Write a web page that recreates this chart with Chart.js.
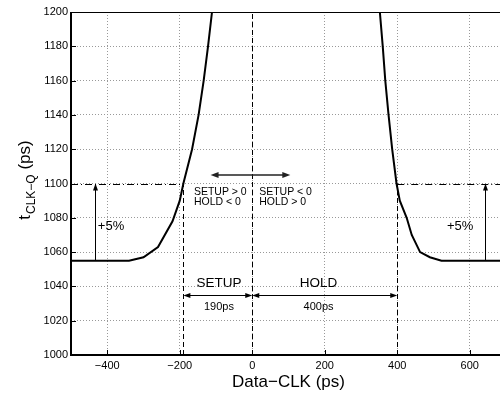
<!DOCTYPE html>
<html><head><meta charset="utf-8">
<script src="https://cdn.jsdelivr.net/npm/chart.js@4"></script>
<style>html,body{margin:0;padding:0;overflow:hidden;background:#fff;width:500px;height:393px}canvas{display:block}</style>
</head><body>
<canvas id="c" width="506" height="393"></canvas>
<script>
// ---- data ----
const xTicks = [-400, -200, 0, 200, 400, 600];
const yTicks = [1000, 1020, 1040, 1060, 1080, 1100, 1120, 1140, 1160, 1180, 1200];
const leftX  = [-500, -340, -300, -260, -220, -200, -190, -166, -148, -134, -122, -111];
const leftY  = [1055, 1055, 1057, 1063, 1078, 1090, 1100, 1120, 1140, 1160, 1180, 1200];
const rightX = [352, 360, 367, 376, 386, 398, 407, 426, 440, 463, 490, 522, 700];
const rightY = [1200, 1180, 1160, 1140, 1120, 1100, 1090, 1080, 1070, 1060, 1057, 1055, 1055];
const thresholdY = 1100;
const baseY = 1055;
const setupX = -190;
const zeroX = 0;
const holdX = 400;
const pctArrowX = [-435, 642];
const pctLabel = '+5%';
const pctLabelX = [-426, 610];
const pctLabelY = 1075;
const spanArrowY = 1035;
const spanLabels = ['SETUP', 'HOLD'];
const spanValues = ['190ps', '400ps'];
const spanLabelX = [-92, 183];
const spanLabelY = 1042;
const spanValueY = 1028;
const signArrowX = [-115, 105];
const signArrowY = 1105;
const signLabelsLeft = ['SETUP > 0', 'HOLD < 0'];
const signLabelsRight = ['SETUP < 0', 'HOLD > 0'];
const signLabelX = [-161, 19];
const signLabelY = [1095, 1089];
const xTitle = 'Data\u2212CLK (ps)';
const yTitleMain = 't', yTitleSub = 'CLK\u2212Q', yTitleUnit = ' (ps)';

const FONT = '"Liberation Sans", Arial, Helvetica, sans-serif';
Chart.defaults.font.family = FONT;
Chart.defaults.color = '#000';

function toPts(xs, ys){ return xs.map((v,i)=>({x:v, y:ys[i]})); }

const overlay = {
  id: 'overlay',
  afterDatasetsDraw(chart){
    const {ctx, scales:{x, y}, chartArea:a} = chart;
    const X = v => x.getPixelForValue(v), Y = v => y.getPixelForValue(v);
    const line = (x1,y1,x2,y2) => { ctx.beginPath(); ctx.moveTo(x1,y1); ctx.lineTo(x2,y2); ctx.stroke(); };
    const head = (xt,yt,dx,dy,len,w) => {
      const px=-dy, py=dx;
      ctx.beginPath();
      ctx.moveTo(xt,yt);
      ctx.lineTo(xt-dx*len+px*w, yt-dy*len+py*w);
      ctx.lineTo(xt-dx*len-px*w, yt-dy*len-py*w);
      ctx.closePath(); ctx.fill();
    };
    ctx.save();
    ctx.strokeStyle = '#000'; ctx.fillStyle = '#000'; ctx.lineWidth = 1;
    // vertical dashed lines
    ctx.setLineDash([5,3]);
    line(Math.round(X(setupX))+0.5, Y(1000), Math.round(X(setupX))+0.5, Y(thresholdY));
    line(Math.round(X(zeroX))+0.5, Y(1000), Math.round(X(zeroX))+0.5, Y(1200));
    line(Math.round(X(holdX))+0.5, Y(1000), Math.round(X(holdX))+0.5, Y(thresholdY));
    // dash-dot threshold lines
    ctx.setLineDash([7,3,1,3]);
    const ty = Math.round(Y(thresholdY))+0.5;
    line(X(x.min), ty, X(setupX), ty);
    line(X(holdX), ty, X(x.max), ty);
    ctx.setLineDash([]);
    // +5% vertical arrows
    pctArrowX.forEach(v => {
      const px = Math.round(X(v))+0.5;
      line(px, Y(baseY), px, Y(thresholdY)+5);
      head(px, Y(thresholdY), 0, -1, 7, 2.5);
    });
    // span arrows
    const sy = Math.round(Y(spanArrowY))+0.5;
    [[setupX, zeroX],[zeroX, holdX]].forEach(([p,q]) => {
      const a1 = X(p), a2 = X(q);
      line(a1+4, sy, a2-4, sy);
      head(a1, sy, -1, 0, 7, 2.5);
      head(a2, sy, 1, 0, 7, 2.5);
    });
    // sign double arrow
    ctx.strokeStyle = '#222'; ctx.fillStyle = '#222'; ctx.lineWidth = 1.5;
    const gy = Y(signArrowY);
    line(X(signArrowX[0])+5, gy, X(signArrowX[1])-5, gy);
    head(X(signArrowX[0]), gy, -1, 0, 8, 3);
    head(X(signArrowX[1]), gy, 1, 0, 8, 3);
    // texts
    ctx.fillStyle = '#000';
    ctx.textBaseline = 'middle';
    ctx.font = '13px ' + FONT;
    ctx.textAlign = 'left';
    ctx.fillText(pctLabel, X(pctLabelX[0]), Y(pctLabelY));
    ctx.textAlign = 'right';
    ctx.fillText(pctLabel, X(pctLabelX[1]), Y(pctLabelY));
    ctx.textAlign = 'center';
    ctx.font = '13.5px ' + FONT;
    spanLabels.forEach((t,i) => ctx.fillText(t, X(spanLabelX[i]), Y(spanLabelY)));
    ctx.font = '11px ' + FONT;
    spanValues.forEach((t,i) => ctx.fillText(t, X(spanLabelX[i]), Y(spanValueY)));
    ctx.textAlign = 'left';
    ctx.font = '10.5px ' + FONT;
    signLabelsLeft.forEach((t,i) => ctx.fillText(t, X(signLabelX[0]), Y(signLabelY[i])));
    signLabelsRight.forEach((t,i) => ctx.fillText(t, X(signLabelX[1]), Y(signLabelY[i])));
    ctx.restore();
  },
  afterDraw(chart){
    const {ctx, scales:{x, y}, chartArea:a} = chart;
    ctx.save();
    ctx.strokeStyle = '#000';
    // borders
    ctx.lineWidth = 1;
    ctx.beginPath(); ctx.moveTo(a.left, a.top+0.5); ctx.lineTo(a.right, a.top+0.5); ctx.stroke();
    ctx.lineWidth = 2;
    ctx.beginPath(); ctx.moveTo(a.left, a.top); ctx.lineTo(a.left, a.bottom); ctx.lineTo(a.right, a.bottom); ctx.stroke();
    // inward ticks
    ctx.lineWidth = 1;
    xTicks.forEach(v => { const p = Math.round(x.getPixelForValue(v))+0.5; ctx.beginPath(); ctx.moveTo(p, a.bottom); ctx.lineTo(p, a.bottom-5); ctx.stroke(); });
    yTicks.forEach(v => { const p = Math.round(y.getPixelForValue(v))+0.5; ctx.beginPath(); ctx.moveTo(a.left, p); ctx.lineTo(a.left+5, p); ctx.stroke(); });
    // titles
    ctx.fillStyle = '#000';
    ctx.textAlign = 'center'; ctx.textBaseline = 'middle';
    ctx.font = '17px ' + FONT;
    ctx.fillText(xTitle, (a.left + a.right)/2, 382);
    // y title rotated with subscript
    ctx.translate(30, 180);
    ctx.rotate(-Math.PI/2);
    ctx.textAlign = 'left'; ctx.textBaseline = 'alphabetic';
    const fMain = '17px ' + FONT, fSub = '12px ' + FONT;
    ctx.font = fMain; const w1 = ctx.measureText(yTitleMain).width + 1, w3 = ctx.measureText(yTitleUnit).width;
    ctx.font = fSub; const w2 = ctx.measureText(yTitleSub).width;
    let sx = -(w1 + w2 + w3)/2;
    ctx.font = fMain; ctx.fillText(yTitleMain, sx, 0); sx += w1;
    ctx.font = fSub; ctx.fillText(yTitleSub, sx, 5); sx += w2;
    ctx.font = fMain; ctx.fillText(yTitleUnit, sx, 0);
    ctx.restore();
  }
};

new Chart(document.getElementById('c'), {
  type: 'scatter',
  data: {
    datasets: [
      { data: toPts(leftX, leftY), showLine: true, borderColor: '#000', borderWidth: 2, pointRadius: 0, tension: 0 },
      { data: toPts(rightX, rightY), showLine: true, borderColor: '#000', borderWidth: 2, pointRadius: 0, tension: 0 }
    ]
  },
  options: {
    responsive: false, animation: false, devicePixelRatio: 1,
    layout: { padding: { top: 12, left: 0, right: 0, bottom: 0 } },
    plugins: { legend: { display: false }, tooltip: { enabled: false } },
    scales: {
      x: {
        type: 'linear', min: -500, max: 700,
        afterBuildTicks: s => { s.ticks = xTicks.map(v => ({value: v})); },
        afterFit: s => { s.height = 38; },
        ticks: { font: { size: 11 }, color: '#000', padding: 4, maxRotation: 0,
                 callback: v => String(v).replace('-', '\u2212') },
        grid: { color: '#999', lineWidth: 1, drawTicks: false },
        border: { display: false, dash: [1, 2] }
      },
      y: {
        type: 'linear', min: 1000, max: 1200,
        afterBuildTicks: s => { s.ticks = yTicks.map(v => ({value: v})); },
        afterFit: s => { s.width = 71; },
        ticks: { font: { size: 11 }, color: '#000', padding: 3, callback: v => String(v) },
        grid: { color: '#999', lineWidth: 1, drawTicks: false },
        border: { display: false, dash: [1, 2] }
      }
    }
  },
  plugins: [overlay]
});
</script>
</body></html>
